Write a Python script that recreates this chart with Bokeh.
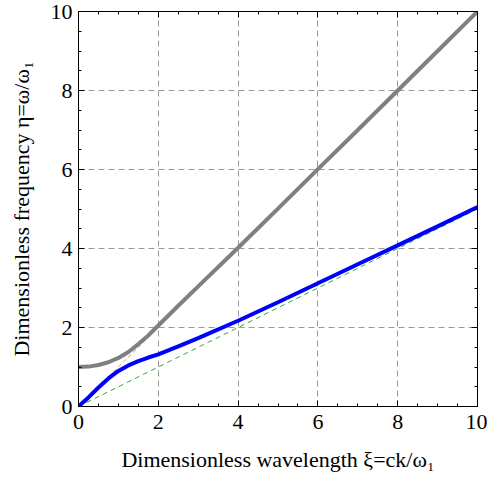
from bokeh.plotting import figure
from bokeh.models import LinearAxis, Range1d, FixedTicker
from bokeh.embed import file_html
from bokeh.resources import INLINE

# Upper branch (gray)
xi_upper = [0.0, 0.25, 0.5, 0.75, 1.0, 1.25, 1.5, 1.75, 2.0, 2.5, 3.0, 4.0, 5.0, 6.0, 7.0, 8.0, 9.0, 10.0]
eta_upper = [1.0, 1.01, 1.05, 1.12, 1.23, 1.38, 1.58, 1.8, 2.05, 2.55, 3.04, 4.02, 5.01, 6.01, 7.0, 8.0, 9.0, 10.0]
# Lower branch (blue)
xi_lower = [0.0, 0.25, 0.5, 0.75, 1.0, 1.25, 1.5, 1.75, 2.0, 2.5, 3.0, 4.0, 5.0, 6.0, 7.0, 8.0, 9.0, 10.0]
eta_lower = [0.0, 0.23, 0.48, 0.71, 0.9, 1.04, 1.15, 1.24, 1.32, 1.52, 1.73, 2.17, 2.64, 3.12, 3.6, 4.08, 4.56, 5.05]
# Asymptotes
xi_asym = [0.0, 10.0]
eta_light = [0.0, 10.0]
eta_half = [0.0, 5.0]

major_ticks = [0, 2, 4, 6, 8, 10]
minor_ticks = [0.5 * i for i in range(21)]

FONT = "Liberation Serif"
FS = "22px"

p = figure(width=487, height=479, output_backend="svg", toolbar_location=None,
           x_range=Range1d(0, 10), y_range=Range1d(0, 10),
           min_border_left=78, min_border_right=10, min_border_top=11, min_border_bottom=73,
           x_axis_label="Dimensionless wavelength ξ=ck/ω₁",
           y_axis_label="Dimensionless frequency η=ω/ω₁")
p.outline_line_color = "black"
p.outline_line_width = 1
p.background_fill_color = "white"
p.border_fill_color = "white"

# grid
for g in (p.xgrid, p.ygrid):
    g.ticker = FixedTicker(ticks=major_ticks)
    g.grid_line_color = "#999999"
    g.grid_line_dash = "6 4"
    g.grid_line_width = 1

def style_axis(ax, labels=True):
    ax.ticker = FixedTicker(ticks=major_ticks, minor_ticks=minor_ticks)
    ax.major_tick_in = 6
    ax.major_tick_out = 0
    ax.minor_tick_in = 3
    ax.minor_tick_out = 0
    ax.axis_line_color = "black"
    ax.major_tick_line_color = "black"
    ax.minor_tick_line_color = "black"
    ax.major_label_text_font = FONT
    ax.major_label_text_font_size = FS
    ax.major_label_text_color = "black"
    ax.axis_label_text_font = FONT
    ax.axis_label_text_font_size = FS
    ax.axis_label_text_font_style = "normal"
    ax.axis_label_text_color = "black"
    if not labels:
        ax.major_label_text_font_size = "0px"
        ax.major_label_text_color = None
        ax.major_label_standoff = 0

style_axis(p.xaxis[0])
style_axis(p.yaxis[0])
p.xaxis[0].major_label_standoff = 8
p.xaxis[0].axis_label_standoff = 15
p.yaxis[0].major_label_standoff = 6
p.yaxis[0].axis_label_standoff = 14

top = LinearAxis()
right = LinearAxis()
style_axis(top, labels=False)
style_axis(right, labels=False)
p.add_layout(top, "above")
p.add_layout(right, "right")

# asymptotes
p.line(xi_asym, eta_light, line_color="#c8a064", line_width=1, line_dash="4 3")
p.line(xi_asym, eta_half, line_color="#3ca03c", line_width=1, line_dash="5 4")

# branches
p.line(xi_upper, eta_upper, line_color="#808080", line_width=4)
p.line(xi_lower, eta_lower, line_color="#0000ff", line_width=4)

open("out.html", "w").write(file_html(p, INLINE))
